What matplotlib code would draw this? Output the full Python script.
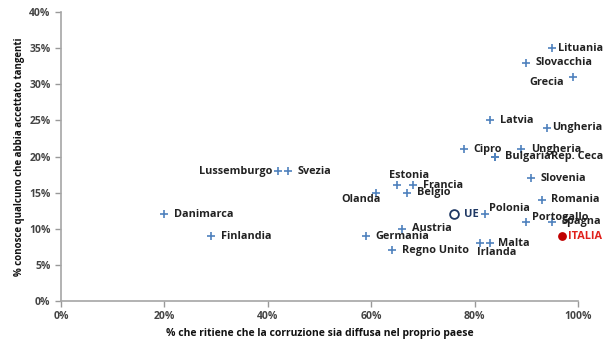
import matplotlib.pyplot as plt
from matplotlib.ticker import PercentFormatter

plt.rcParams['font.family'] = ['Open Sans', 'DejaVu Sans']

# Data
paesi = ["Lituania", "Slovacchia", "Grecia", "Latvia", "Ungheria", "Cipro",
         "Ungheria", "Bulgaria", "Rep. Ceca", "Slovenia", "Estonia", "Francia",
         "Belgio", "Olanda", "Polonia", "Romania", "Portogallo", "Spagna",
         "Austria", "Germania", "Regno Unito", "Irlanda", "Malta",
         "Lussemburgo", "Svezia", "Danimarca", "Finlandia"]
diffusa = [95, 90, 99, 83, 94, 78, 89, 84, 84, 91, 65, 68, 67, 61, 82, 93,
           90, 95, 66, 59, 64, 81, 83, 42, 44, 20, 29]
tangenti = [35, 33, 31, 25, 24, 21, 21, 20, 20, 17, 16, 16, 15, 15, 12, 14,
            11, 11, 10, 9, 7, 8, 8, 18, 18, 12, 9]
# label offsets in points (dx, dy, ha)
offsets = [(4, 0, "left"), (6.5, 0, "left"), (-6, -4, "right"), (7, 0, "left"),
           (4, 0, "left"), (6.5, 0, "left"), (7, 0, "left"), (7, 0, "left"),
           (40, 0, "left"), (6.5, 0, "left"), (9, 7, "center"), (7.5, 0, "left"),
           (7, 0, "left"), (-11, -5, "center"), (3, 4, "left"), (7, 0, "left"),
           (4, 3, "left"), (6.5, 0, "left"), (7, 0, "left"), (6.5, 0, "left"),
           (7, 0, "left"), (12, -6.5, "center"), (6, 0, "left"),
           (-4, 0, "right"), (6.5, 0, "left"), (7, 0, "left"), (7, 0, "left")]

ue = (76, 12)
italia = (97, 9)

fig = plt.figure(figsize=(6.06, 3.46), dpi=100)
ax = fig.add_axes([0.1007, 0.130, 0.853, 0.835])

ax.scatter(diffusa, tangenti, marker="+", s=28, color="#4F81BD", linewidths=1.2, zorder=3)
for nome, x, y, (dx, dy, ha) in zip(paesi, diffusa, tangenti, offsets):
    ax.annotate(nome, (x, y), xytext=(dx, dy), textcoords="offset points",
                ha=ha, va="center", fontsize=7.8, fontweight="bold", color="#222222")

ax.scatter([ue[0]], [ue[1]], marker="o", s=40, facecolor="white",
           edgecolor="#1F3864", linewidths=1.3, zorder=3)
ax.annotate("UE", ue, xytext=(7, 0), textcoords="offset points", ha="left",
            va="center", fontsize=8, fontweight="bold", color="#1F3864")
ax.scatter([italia[0]], [italia[1]], marker="o", s=28, color="#C00000", zorder=3)
ax.annotate("ITALIA", italia, xytext=(4, 0), textcoords="offset points", ha="left",
            va="center", fontsize=7.8, fontweight="bold", color="#E0201B")

ax.set_xlim(0, 100)
ax.set_ylim(0, 40)
ax.set_xticks([0, 20, 40, 60, 80, 100])
ax.set_yticks(range(0, 45, 5))
ax.xaxis.set_major_formatter(PercentFormatter(decimals=0))
ax.yaxis.set_major_formatter(PercentFormatter(decimals=0))
ax.tick_params(labelsize=7.5, colors="#999999", labelcolor="#444444", length=4, width=1)
for lab in ax.get_xticklabels() + ax.get_yticklabels():
    lab.set_fontweight("bold")

for s in ["top", "right"]:
    ax.spines[s].set_visible(False)
for s in ["left", "bottom"]:
    ax.spines[s].set_color("#A6A6A6")
    ax.spines[s].set_linewidth(1.2)

ax.set_xlabel("% che ritiene che la corruzione sia diffusa nel proprio paese",
              fontsize=7.5, fontweight="bold", color="#111111", labelpad=4)
ax.set_ylabel("% conosce qualcuno che abbia accettato tangenti",
              fontsize=7, fontweight="bold", color="#111111", labelpad=3)

fig.savefig("out.png", dpi=100)
plt.close()
